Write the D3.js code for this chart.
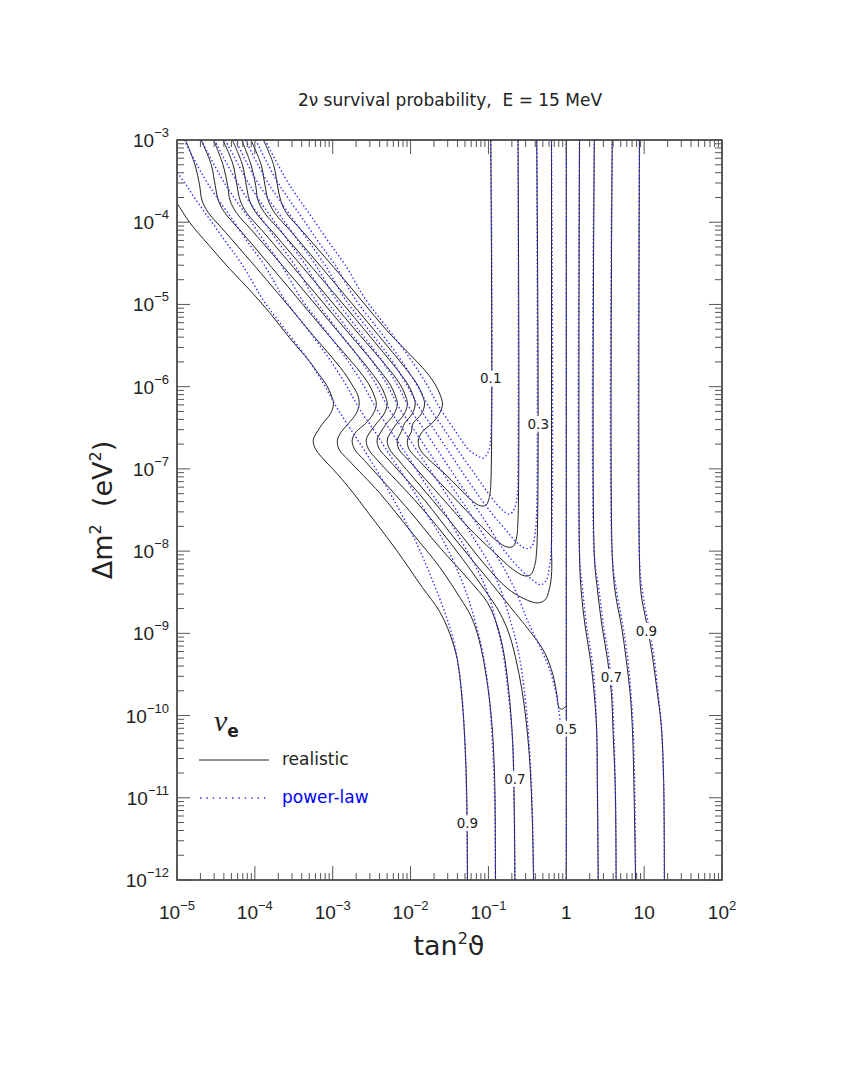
<!DOCTYPE html>
<html><head><meta charset="utf-8">
<script src="https://cdn.jsdelivr.net/npm/d3@7/dist/d3.min.js"></script>
<style>html,body{margin:0;padding:0;background:#fff;}svg{display:block}</style>
</head><body>
<div id="chart"></div>
<script>
// ---------- DATA (points are [log10(tan²θ), log10(Δm²/eV²)]) ----------
const xDomain = [1e-5, 1e2];
const yDomain = [1e-12, 1e-3];
const xTickValues = [1e-5, 1e-4, 1e-3, 1e-2, 1e-1, 1, 10, 100];
const xTickBases  = ["10", "10", "10", "10", "10", "1", "10", "10"];
const xTickExps   = ["\u22125", "\u22124", "\u22123", "\u22122", "\u22121", "", "", "2"];
const yTickValues = [1e-12, 1e-11, 1e-10, 1e-9, 1e-8, 1e-7, 1e-6, 1e-5, 1e-4, 1e-3];
const yTickExps   = ["\u221212", "\u221211", "\u221210", "\u22129", "\u22128", "\u22127", "\u22126", "\u22125", "\u22124", "\u22123"];

// realistic solar density profile (solid black)
const real09 = [[-5.10,-3.65],[-5.00,-3.77],[-4.84,-4.00],[-4.59,-4.28],[-4.33,-4.56],[-4.07,-4.82],[-3.81,-5.10],[-3.56,-5.40],[-3.30,-5.69],[-3.20,-5.82],[-3.08,-5.98],[-3.02,-6.10],[-2.99,-6.21],[-3.03,-6.33],[-3.13,-6.45],[-3.20,-6.55],[-3.25,-6.65],[-3.22,-6.76],[-3.10,-6.90],[-2.99,-7.01],[-2.79,-7.23],[-2.53,-7.55],[-2.18,-7.99],[-1.85,-8.44],[-1.63,-8.73],[-1.49,-9.02],[-1.40,-9.32],[-1.35,-9.69],[-1.31,-10.18],[-1.28,-10.91],[-1.27,-12]];
const real08 = [[-4.89,-3.00],[-4.77,-3.30],[-4.71,-3.55],[-4.68,-3.73],[-4.60,-3.88],[-4.37,-4.13],[-3.85,-4.70],[-3.31,-5.31],[-2.86,-5.82],[-2.75,-5.98],[-2.68,-6.10],[-2.66,-6.21],[-2.70,-6.33],[-2.80,-6.45],[-2.89,-6.55],[-2.94,-6.65],[-2.92,-6.76],[-2.79,-6.90],[-2.40,-7.29],[-1.98,-7.78],[-1.63,-8.19],[-1.37,-8.56],[-1.22,-8.80],[-1.12,-9.08],[-1.03,-9.51],[-0.96,-10.05],[-0.92,-10.78],[-0.91,-12]];
const real07 = [[-4.69,-3.00],[-4.56,-3.30],[-4.51,-3.55],[-4.47,-3.73],[-4.39,-3.88],[-4.16,-4.13],[-3.65,-4.70],[-3.11,-5.31],[-2.65,-5.82],[-2.53,-5.98],[-2.47,-6.10],[-2.44,-6.21],[-2.48,-6.33],[-2.58,-6.45],[-2.70,-6.55],[-2.75,-6.65],[-2.72,-6.76],[-2.59,-6.90],[-2.06,-7.46],[-1.63,-7.95],[-1.25,-8.35],[-1.01,-8.63],[-0.89,-8.90],[-0.81,-9.20],[-0.74,-9.69],[-0.69,-10.30],[-0.67,-11.03],[-0.66,-12]];
const real06 = [[-4.53,-3.00],[-4.41,-3.30],[-4.35,-3.55],[-4.32,-3.73],[-4.24,-3.88],[-4.01,-4.13],[-3.49,-4.70],[-2.95,-5.31],[-2.51,-5.82],[-2.39,-5.98],[-2.33,-6.10],[-2.30,-6.21],[-2.34,-6.33],[-2.44,-6.45],[-2.52,-6.55],[-2.57,-6.65],[-2.54,-6.76],[-2.42,-6.90],[-1.89,-7.44],[-1.44,-7.96],[-1.05,-8.47],[-0.86,-8.74],[-0.73,-9.02],[-0.63,-9.39],[-0.55,-9.81],[-0.48,-10.42],[-0.44,-11.15],[-0.42,-12]];
const real05 = [[-4.41,-3.00],[-4.28,-3.30],[-4.23,-3.55],[-4.19,-3.73],[-4.11,-3.88],[-3.88,-4.13],[-3.37,-4.70],[-2.83,-5.31],[-2.38,-5.82],[-2.26,-5.98],[-2.20,-6.10],[-2.17,-6.21],[-2.21,-6.33],[-2.31,-6.45],[-2.38,-6.55],[-2.43,-6.65],[-2.40,-6.76],[-2.27,-6.90],[-1.82,-7.38],[-1.44,-7.84],[-1.05,-8.29],[-0.71,-8.69],[-0.48,-8.96],[-0.28,-9.23],[-0.17,-9.51],[-0.12,-9.75],[-0.09,-9.91],[-0.05,-9.92],[0.00,-9.88]];
const real04 = [[-4.29,-3.00],[-4.16,-3.30],[-4.11,-3.55],[-4.07,-3.73],[-3.99,-3.88],[-3.76,-4.13],[-3.25,-4.70],[-2.71,-5.31],[-2.25,-5.82],[-2.13,-5.98],[-2.07,-6.10],[-2.04,-6.21],[-2.08,-6.33],[-2.18,-6.45],[-2.25,-6.55],[-2.30,-6.65],[-2.27,-6.76],[-2.15,-6.90],[-1.70,-7.40],[-1.37,-7.78],[-1.05,-8.16],[-0.76,-8.45],[-0.54,-8.58],[-0.37,-8.63],[-0.27,-8.59],[-0.22,-8.47],[-0.19,-8.29],[-0.19,-7.87],[-0.19,-3.00]];
const real03 = [[-4.17,-3.00],[-4.05,-3.30],[-3.99,-3.55],[-3.96,-3.73],[-3.88,-3.88],[-3.65,-4.13],[-3.13,-4.70],[-2.59,-5.31],[-2.15,-5.82],[-2.03,-5.98],[-1.97,-6.10],[-1.94,-6.21],[-1.98,-6.33],[-2.08,-6.45],[-2.12,-6.55],[-2.17,-6.65],[-2.15,-6.76],[-2.02,-6.90],[-1.57,-7.38],[-1.25,-7.72],[-0.92,-8.02],[-0.69,-8.22],[-0.54,-8.30],[-0.46,-8.29],[-0.41,-8.19],[-0.38,-7.99],[-0.38,-3.00]];
const real02 = [[-4.05,-3.00],[-3.92,-3.30],[-3.87,-3.55],[-3.83,-3.73],[-3.75,-3.88],[-3.52,-4.13],[-3.01,-4.70],[-2.47,-5.31],[-2.03,-5.82],[-1.91,-5.98],[-1.85,-6.10],[-1.82,-6.21],[-1.86,-6.33],[-1.97,-6.45],[-1.99,-6.55],[-2.04,-6.65],[-2.02,-6.76],[-1.89,-6.90],[-1.44,-7.35],[-1.14,-7.65],[-0.90,-7.87],[-0.76,-7.95],[-0.68,-7.94],[-0.64,-7.84],[-0.62,-7.62],[-0.62,-3.00]];
const real01 = [[-3.89,-3.00],[-3.76,-3.30],[-3.71,-3.55],[-3.67,-3.73],[-3.60,-3.88],[-3.37,-4.13],[-2.85,-4.70],[-2.31,-5.31],[-1.80,-5.82],[-1.68,-5.98],[-1.62,-6.10],[-1.59,-6.21],[-1.63,-6.33],[-1.73,-6.45],[-1.85,-6.55],[-1.90,-6.65],[-1.88,-6.76],[-1.75,-6.90],[-1.57,-7.05],[-1.37,-7.24],[-1.22,-7.38],[-1.10,-7.45],[-1.03,-7.44],[-0.99,-7.35],[-0.97,-7.20],[-0.97,-3.00]];
const realUnit = [[0,-3],[0,-12]];
const realR06 = [[0.17,-3.00],[0.17,-8.05],[0.19,-8.47],[0.24,-8.90],[0.31,-9.32],[0.36,-9.75],[0.39,-10.18],[0.40,-10.91],[0.41,-12]];
const realR07 = [[0.36,-3.00],[0.36,-8.05],[0.40,-8.47],[0.46,-8.92],[0.53,-9.32],[0.58,-9.73],[0.60,-10.18],[0.63,-10.91],[0.64,-12]];
const realR08 = [[0.59,-3.00],[0.59,-8.05],[0.63,-8.51],[0.71,-8.92],[0.77,-9.32],[0.82,-9.73],[0.85,-10.18],[0.87,-10.91],[0.89,-12]];
const realR09 = [[0.94,-3.00],[0.94,-8.11],[0.96,-8.51],[1.03,-8.87],[1.10,-9.24],[1.17,-9.73],[1.22,-10.12],[1.25,-10.78],[1.26,-12]];

// power-law density profile (dotted blue)
const plaw09 = [[-5.05,-3.32],[-5.00,-3.39],[-4.88,-3.55],[-4.77,-3.71],[-4.59,-3.95],[-4.38,-4.23],[-4.16,-4.52],[-3.89,-4.95],[-3.64,-5.27],[-3.34,-5.64],[-3.12,-5.96],[-2.95,-6.25],[-2.74,-6.56],[-2.53,-6.87],[-2.31,-7.22],[-2.11,-7.56],[-1.91,-7.93],[-1.73,-8.33],[-1.57,-8.72],[-1.45,-9.08],[-1.36,-9.57],[-1.31,-10.18],[-1.28,-11.03],[-1.27,-12]];
const plaw08 = [[-4.91,-3.00],[-4.65,-3.46],[-4.48,-3.71],[-4.30,-3.95],[-4.10,-4.23],[-3.88,-4.52],[-3.61,-4.95],[-3.35,-5.27],[-3.06,-5.64],[-2.84,-5.96],[-2.67,-6.25],[-2.45,-6.56],[-2.24,-6.87],[-2.00,-7.21],[-1.79,-7.55],[-1.57,-7.89],[-1.40,-8.23],[-1.26,-8.57],[-1.17,-8.86],[-1.08,-9.20],[-1.00,-9.69],[-0.95,-10.30],[-0.92,-11.03],[-0.91,-12]];
const plaw07 = [[-4.69,-3.00],[-4.43,-3.46],[-4.26,-3.71],[-4.08,-3.95],[-3.88,-4.23],[-3.66,-4.52],[-3.39,-4.95],[-3.13,-5.27],[-2.84,-5.64],[-2.62,-5.96],[-2.45,-6.25],[-2.24,-6.56],[-2.02,-6.87],[-1.79,-7.21],[-1.55,-7.55],[-1.34,-7.89],[-1.14,-8.23],[-1.00,-8.53],[-0.91,-8.84],[-0.82,-9.20],[-0.75,-9.69],[-0.69,-10.30],[-0.67,-11.03],[-0.66,-12]];
const plaw06 = [[-4.52,-3.00],[-4.26,-3.46],[-4.10,-3.71],[-3.92,-3.95],[-3.71,-4.23],[-3.49,-4.52],[-3.22,-4.95],[-2.97,-5.27],[-2.67,-5.64],[-2.45,-5.96],[-2.29,-6.25],[-2.07,-6.56],[-1.86,-6.86],[-1.63,-7.18],[-1.40,-7.52],[-1.17,-7.87],[-0.96,-8.21],[-0.82,-8.53],[-0.72,-8.84],[-0.62,-9.20],[-0.54,-9.69],[-0.48,-10.30],[-0.44,-11.03],[-0.42,-12]];
const plaw05 = [[-4.38,-3.00],[-4.12,-3.46],[-3.96,-3.71],[-3.78,-3.95],[-3.57,-4.23],[-3.35,-4.52],[-3.08,-4.95],[-2.83,-5.27],[-2.53,-5.64],[-2.31,-5.96],[-2.15,-6.25],[-1.93,-6.56],[-1.72,-6.86],[-1.48,-7.20],[-1.25,-7.52],[-1.02,-7.87],[-0.80,-8.21],[-0.63,-8.53],[-0.50,-8.84],[-0.35,-9.14],[-0.22,-9.42],[-0.14,-9.69],[-0.10,-9.91],[-0.08,-10.05]];
const plaw04 = [[-4.25,-3.00],[-4.00,-3.46],[-3.83,-3.71],[-3.65,-3.95],[-3.44,-4.23],[-3.22,-4.52],[-2.95,-4.95],[-2.70,-5.27],[-2.40,-5.64],[-2.18,-5.96],[-2.02,-6.25],[-1.80,-6.56],[-1.57,-6.89],[-1.31,-7.26],[-1.05,-7.62],[-0.80,-7.99],[-0.58,-8.23],[-0.42,-8.36],[-0.33,-8.41],[-0.26,-8.36],[-0.22,-8.21],[-0.19,-7.90],[-0.19,-3.00]];
const plaw03 = [[-4.12,-3.00],[-3.87,-3.46],[-3.70,-3.71],[-3.52,-3.95],[-3.31,-4.23],[-3.10,-4.52],[-2.83,-4.95],[-2.57,-5.27],[-2.27,-5.64],[-2.06,-5.96],[-1.89,-6.25],[-1.67,-6.56],[-1.44,-6.89],[-1.22,-7.20],[-0.99,-7.50],[-0.78,-7.74],[-0.63,-7.90],[-0.51,-7.97],[-0.44,-7.94],[-0.40,-7.78],[-0.38,-7.50],[-0.38,-3.00]];
const plaw02 = [[-3.99,-3.00],[-3.74,-3.46],[-3.57,-3.71],[-3.39,-3.95],[-3.19,-4.23],[-2.97,-4.52],[-2.70,-4.95],[-2.44,-5.27],[-2.15,-5.64],[-1.93,-5.96],[-1.76,-6.25],[-1.54,-6.56],[-1.35,-6.83],[-1.14,-7.11],[-0.96,-7.35],[-0.82,-7.50],[-0.73,-7.55],[-0.67,-7.49],[-0.63,-7.33],[-0.62,-7.05],[-0.62,-3.00]];
const plaw01 = [[-3.87,-3.00],[-3.61,-3.46],[-3.44,-3.71],[-3.26,-3.95],[-3.06,-4.23],[-2.84,-4.52],[-2.57,-4.95],[-2.31,-5.27],[-2.02,-5.64],[-1.80,-5.96],[-1.63,-6.25],[-1.41,-6.56],[-1.25,-6.77],[-1.14,-6.84],[-1.07,-6.87],[-1.00,-6.79],[-0.97,-6.62],[-0.97,-3.00]];
const plawUnit = [[0,-3],[0,-12]];
const plawR06 = [[0.17,-3.00],[0.17,-8.05],[0.21,-8.47],[0.26,-8.90],[0.33,-9.32],[0.37,-9.75],[0.39,-10.18],[0.40,-10.91],[0.41,-12]];
const plawR07 = [[0.36,-3.00],[0.36,-8.05],[0.42,-8.47],[0.48,-8.92],[0.55,-9.32],[0.59,-9.73],[0.61,-10.18],[0.63,-10.91],[0.64,-12]];
const plawR08 = [[0.59,-3.00],[0.59,-8.05],[0.65,-8.51],[0.73,-8.92],[0.79,-9.32],[0.83,-9.73],[0.86,-10.18],[0.88,-10.91],[0.89,-12]];
const plawR09 = [[0.94,-3.00],[0.94,-8.11],[0.98,-8.51],[1.05,-8.87],[1.12,-9.24],[1.18,-9.73],[1.22,-10.12],[1.25,-10.78],[1.26,-12]];

// contour labels
const labelTexts = ["0.1", "0.3", "0.9", "0.7", "0.5", "0.7", "0.9"];
const labelPos = [[-0.97,-5.90],[-0.36,-6.45],[1.03,-8.97],[0.58,-9.53],[0,-10.16],[-0.66,-10.77],[-1.27,-11.31]];

const legendLabels = ["realistic", "power-law"];

// ---------- DRAWING ----------
const W = 842, H = 1090;
const M = {left: 177, right: 722, top: 140, bottom: 880};
const FONT = "'DejaVu Sans', 'Liberation Sans', sans-serif";
const BLUE = "#2a2aff";

const svg = d3.select('#chart').append('svg').attr('width', W).attr('height', H).style('background', '#fff');
const x = d3.scaleLog().domain(xDomain).range([M.left, M.right]);
const y = d3.scaleLog().domain(yDomain).range([M.bottom, M.top]);

svg.append('defs').append('clipPath').attr('id', 'clip').append('rect')
  .attr('x', M.left).attr('y', M.top).attr('width', M.right - M.left).attr('height', M.bottom - M.top);

const line = d3.line()
  .x(p => x(Math.pow(10, p[0])))
  .y(p => y(Math.pow(10, p[1])))
  .curve(d3.curveCatmullRom.alpha(0.5));

const realisticCurves = [real09, real08, real07, real06, real05, real04, real03, real02, real01, realUnit, realR06, realR07, realR08, realR09];
const powerLawCurves = [plaw09, plaw08, plaw07, plaw06, plaw05, plaw04, plaw03, plaw02, plaw01, plawUnit, plawR06, plawR07, plawR08, plawR09];

const g = svg.append('g').attr('clip-path', 'url(#clip)');
g.selectAll('path.real').data(realisticCurves).join('path').attr('class', 'real')
  .attr('d', line).attr('fill', 'none').attr('stroke', '#222').attr('stroke-width', 1);
g.selectAll('path.plaw').data(powerLawCurves).join('path').attr('class', 'plaw')
  .attr('d', line).attr('fill', 'none').attr('stroke', BLUE).attr('stroke-width', 1.4)
  .attr('stroke-dasharray', '1.4,2.4');

// contour labels with white knock-out
const lg = svg.append('g');
labelTexts.forEach((t, i) => {
  const px = x(Math.pow(10, labelPos[i][0])), py = y(Math.pow(10, labelPos[i][1]));
  lg.append('rect').attr('x', px - 12).attr('y', py - 8).attr('width', 24).attr('height', 16).attr('fill', '#fff');
  lg.append('text').attr('x', px).attr('y', py + 5).attr('text-anchor', 'middle')
    .attr('font-family', FONT).attr('font-size', 13.5).attr('fill', '#222').text(t);
});

// frame
svg.append('rect').attr('x', M.left).attr('y', M.top).attr('width', M.right - M.left).attr('height', M.bottom - M.top)
  .attr('fill', 'none').attr('stroke', '#333').attr('stroke-width', 1.6);

// ticks
const isMajor = v => Math.abs(Math.log10(v) - Math.round(Math.log10(v))) < 1e-6;
const tg = svg.append('g').attr('stroke', '#555').attr('stroke-width', 1);
x.ticks().forEach(v => {
  const px = x(v), L = isMajor(v) ? 14 : 7;
  tg.append('line').attr('x1', px).attr('x2', px).attr('y1', M.bottom).attr('y2', M.bottom - L);
  tg.append('line').attr('x1', px).attr('x2', px).attr('y1', M.top).attr('y2', M.top + L);
});
y.ticks().forEach(v => {
  const py = y(v), L = isMajor(v) ? 13 : 7;
  tg.append('line').attr('x1', M.left).attr('x2', M.left + L).attr('y1', py).attr('y2', py);
  tg.append('line').attr('x1', M.right).attr('x2', M.right - L).attr('y1', py).attr('y2', py);
});

// tick labels
xTickValues.forEach((v, i) => {
  const t = svg.append('text').attr('x', x(v)).attr('y', 919).attr('text-anchor', 'middle')
    .attr('font-family', "'Liberation Sans', Arial, sans-serif").attr('font-size', 19).attr('fill', '#222');
  t.append('tspan').text(xTickBases[i]);
  if (xTickExps[i]) t.append('tspan').attr('dy', -9).attr('font-size', 13).text(xTickExps[i]);
});
yTickValues.forEach((v, i) => {
  const t = svg.append('text').attr('x', 169).attr('y', y(v) + 7).attr('text-anchor', 'end')
    .attr('font-family', "'Liberation Sans', Arial, sans-serif").attr('font-size', 19).attr('fill', '#222');
  t.append('tspan').text('10');
  t.append('tspan').attr('dy', -10).attr('font-size', 13).text(yTickExps[i]);
});

// title
svg.append('text').attr('x', 450).attr('y', 106).attr('text-anchor', 'middle')
  .attr('font-family', FONT).attr('font-size', 17).attr('fill', '#222').style('white-space', 'pre')
  .text('2\u03bd survival probability,  E = 15 MeV');

// axis titles
const xt = svg.append('text').attr('x', 449).attr('y', 955).attr('text-anchor', 'middle')
  .attr('font-family', FONT).attr('font-size', 27).attr('fill', '#222');
xt.append('tspan').text('tan');
xt.append('tspan').attr('dy', -11).attr('font-size', 16).text('2');
xt.append('tspan').attr('dy', 11).text('\u03d1');

const yt = svg.append('text').attr('transform', 'translate(112,510) rotate(-90)').attr('text-anchor', 'middle')
  .attr('font-family', FONT).attr('font-size', 27).attr('fill', '#222');
yt.append('tspan').text('\u0394m');
yt.append('tspan').attr('dy', -11).attr('font-size', 16).text('2');
yt.append('tspan').attr('dy', 11).text('\u00a0\u00a0(eV');
yt.append('tspan').attr('dy', -11).attr('font-size', 16).text('2');
yt.append('tspan').attr('dy', 11).text(')');

// legend
const nu = svg.append('text').attr('x', 214).attr('y', 731).attr('font-family', "'Liberation Serif', serif")
  .attr('font-style', 'italic').attr('font-size', 30).attr('fill', '#222');
nu.append('tspan').text('\u03bd');
nu.append('tspan').attr('dy', 6).attr('font-size', 17).attr('font-weight', 'bold').attr('font-style', 'normal')
  .attr('font-family', FONT).text('e');
svg.append('line').attr('x1', 199).attr('x2', 269).attr('y1', 760).attr('y2', 760).attr('stroke', '#222').attr('stroke-width', 1);
svg.append('text').attr('x', 282).attr('y', 765).attr('font-family', FONT).attr('font-size', 17).attr('fill', '#222').text(legendLabels[0]);
svg.append('line').attr('x1', 200).attr('x2', 269).attr('y1', 798).attr('y2', 798).attr('stroke', BLUE).attr('stroke-width', 1.4).attr('stroke-dasharray', '1.4,5');
svg.append('text').attr('x', 282).attr('y', 803).attr('font-family', FONT).attr('font-size', 17).attr('fill', '#0000ff').text(legendLabels[1]);
</script>
</body></html>
